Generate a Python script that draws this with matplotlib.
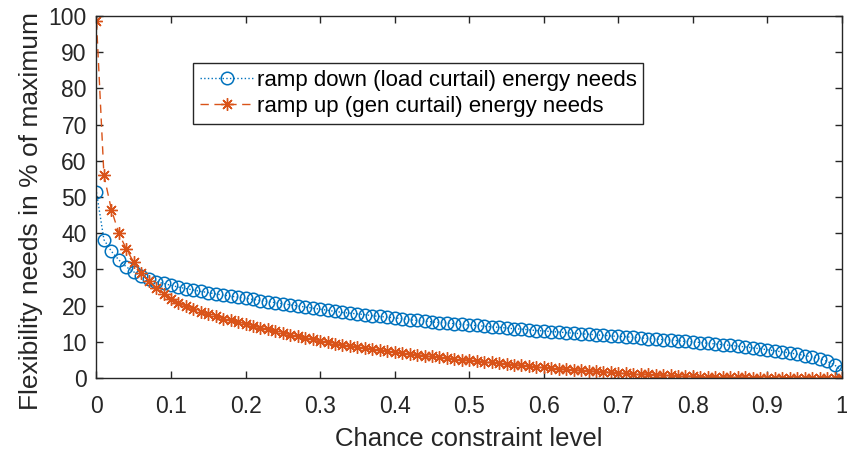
import numpy as np
import matplotlib
matplotlib.use("Agg")
import matplotlib.pyplot as plt

plt.rcParams['font.family'] = ['Liberation Sans', 'DejaVu Sans']

# chance constraint level, 0 to 1 in steps of 0.01
level = np.round(np.arange(101) * 0.01, 2)

# ramp down (load curtail) energy needs, % of maximum
ramp_down = [51.3, 38.2, 35.0, 32.6, 30.7, 29.3, 28.2, 27.3, 26.6, 26.1,
             25.6, 25.1, 24.7, 24.3, 23.9, 23.6, 23.2, 22.9, 22.6, 22.3,
             22.0, 21.7, 21.4, 21.1, 20.8, 20.5, 20.2, 19.9, 19.6, 19.3,
             19.0, 18.7, 18.4, 18.1, 17.9, 17.7, 17.5, 17.2, 17.0, 16.8,
             16.6, 16.4, 16.1, 15.9, 15.7, 15.5, 15.3, 15.2, 15.0, 14.8,
             14.6, 14.5, 14.3, 14.1, 14.0, 13.8, 13.6, 13.5, 13.3, 13.1,
             13.0, 12.8, 12.7, 12.5, 12.4, 12.2, 12.1, 11.9, 11.8, 11.6,
             11.5, 11.4, 11.2, 11.1, 10.9, 10.8, 10.6, 10.5, 10.3, 10.1,
             10.0, 9.8, 9.6, 9.4, 9.2, 9.0, 8.8, 8.6, 8.3, 8.1,
             7.8, 7.5, 7.2, 6.9, 6.6, 6.2, 5.8, 5.3, 4.6, 3.6,
             2.0]

# ramp up (gen curtail) energy needs, % of maximum
ramp_up = [98.5, 56.0, 46.5, 40.0, 35.6, 32.0, 29.0, 26.8, 24.8, 23.2,
           21.8, 20.7, 19.8, 19.0, 18.3, 17.6, 17.0, 16.4, 15.9, 15.4,
           14.9, 14.4, 13.9, 13.4, 12.9, 12.4, 12.0, 11.5, 11.1, 10.7,
           10.3, 9.9, 9.5, 9.2, 8.9, 8.6, 8.3, 8.0, 7.7, 7.5,
           7.2, 6.9, 6.7, 6.4, 6.2, 6.0, 5.7, 5.5, 5.3, 5.1,
           4.9, 4.7, 4.5, 4.3, 4.1, 3.9, 3.7, 3.5, 3.3, 3.1,
           2.9, 2.7, 2.6, 2.4, 2.3, 2.1, 2.0, 1.8, 1.7, 1.6,
           1.4, 1.3, 1.2, 1.1, 1.0, 0.9, 0.8, 0.7, 0.6, 0.5,
           0.5, 0.4, 0.4, 0.3, 0.3, 0.2, 0.2, 0.2, 0.1, 0.1,
           0.1, 0.1, 0.1, 0.1, 0.0, 0.0, 0.0, 0.0, 0.0, 0.0,
           0.0]

blue = '#0072BD'
orange = '#D95319'
dark = '#262626'

fig = plt.figure(figsize=(8.47, 4.51), dpi=100)
ax = fig.add_axes([0.1139, 0.1619, 0.8802, 0.8027])

ax.plot(level, ramp_down, ':', color=blue, marker='o', markersize=9,
        markerfacecolor='none', markeredgewidth=1.1, linewidth=1,
        label='ramp down (load curtail) energy needs')
ax.plot(level, ramp_up, '--', color=orange, marker=(8, 2, 0), markersize=9,
        markeredgewidth=1.0, linewidth=1, dashes=(6, 4),
        label='ramp up (gen curtail) energy needs')

ax.set_xlim(0, 1)
ax.set_ylim(0, 100)
ax.set_xticks(np.arange(0, 1.01, 0.1))
ax.set_xticklabels(['0', '0.1', '0.2', '0.3', '0.4', '0.5', '0.6', '0.7', '0.8', '0.9', '1'])
ax.set_yticks(np.arange(0, 101, 10))
ax.tick_params(direction='in', top=True, right=True, labelsize=16.5, length=5,
               width=1, color=dark, labelcolor=dark)
ax.tick_params(axis='x', pad=12.5)
ax.tick_params(axis='y', pad=7)
for s in ax.spines.values():
    s.set_color(dark)
    s.set_linewidth(1)

ax.set_xlabel('Chance constraint level', fontsize=18.5, color=dark, labelpad=6)
ax.set_ylabel('Flexibility needs in % of maximum', fontsize=19, color=dark, labelpad=4)
ax.yaxis.label.set_y(0.46)

leg = ax.legend(loc='upper left', bbox_to_anchor=(0.130, 0.87), fontsize=16,
                fancybox=False, framealpha=1, edgecolor=dark,
                handlelength=2.4, handletextpad=0.15, borderpad=0.3,
                labelspacing=0.25, borderaxespad=0)
leg.get_frame().set_linewidth(1)

fig.savefig('out.png', dpi=100)
